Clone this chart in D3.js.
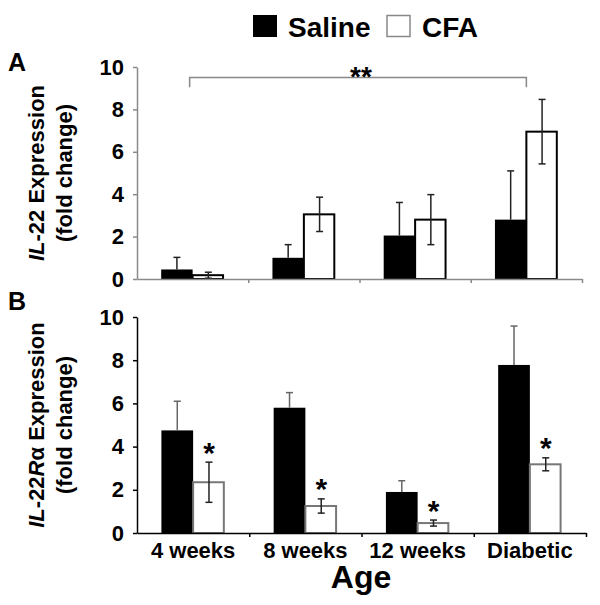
<!DOCTYPE html>
<html>
<head>
<meta charset="utf-8">
<script src="https://cdn.jsdelivr.net/npm/d3@7"></script>
<style>
  body { margin: 0; background: #fff; }
  text { font-family: Arial, "Liberation Sans", sans-serif; font-weight: bold; }
</style>
</head>
<body>
<div id="chart"></div>
<script>
// Age groups and fold-change values
var categories = ["4 weeks", "8 weeks", "12 weeks", "Diabetic"];
var yTicks = [0, 2, 4, 6, 8, 10];

// Panel A: IL-22
var il22Saline = [0.45, 1.0, 2.05, 2.8];
var il22SalineErr = [0.57, 0.62, 1.56, 2.3];
var il22Cfa = [0.18, 3.05, 2.8, 6.95];
var il22CfaErr = [0.14, 0.81, 1.18, 1.52];

// Panel B: IL-22Ralpha
var ilrSaline = [4.75, 5.8, 1.9, 7.78];
var ilrSalineErr = [1.35, 0.7, 0.52, 1.8];
var ilrCfa = [2.35, 1.25, 0.46, 3.18];
var ilrCfaErr = [0.93, 0.33, 0.14, 0.3];
var ilrStars = ["*", "*", "*", "*"];

var svg = d3.select("#chart").append("svg")
  .attr("width", 600)
  .attr("height", 605);

// legend on top
svg.append("rect").attr("x", 253).attr("y", 15).attr("width", 24).attr("height", 22).attr("fill", "#000");
svg.append("text").attr("x", 288).attr("y", 37).attr("font-size", 28).text("Saline");
svg.append("rect").attr("x", 387).attr("y", 15.5).attr("width", 23).attr("height", 21)
  .attr("fill", "#fff").attr("stroke", "#888").attr("stroke-width", 1.5);
svg.append("text").attr("x", 422).attr("y", 37).attr("font-size", 28).text("CFA");

function drawPanel(opt) {
  var g = svg.append("g");
  var y = d3.scaleLinear().domain([0, 10]).range([opt.y0, opt.y1]);
  var x = d3.scaleBand().domain(categories).range(opt.xr).paddingInner(0.435).paddingOuter(0.2175);
  var x1 = d3.scaleBand().domain([0, 1]).range([0, x.bandwidth()]);
  var xb = d3.scaleLinear().domain([0, 4]).range(opt.xr);

  var rows = categories.map(function(c, i) {
    return { cat: c, s: opt.saline[i], se: opt.salineErr[i], c: opt.cfa[i], ce: opt.cfaErr[i] };
  });

  // saline bars (black) with upward error only
  g.selectAll(".sal").data(rows).join("rect")
    .attr("x", d => x(d.cat) + x1(0))
    .attr("y", d => y(d.s))
    .attr("width", x1.bandwidth())
    .attr("height", d => y(0) - y(d.s))
    .attr("fill", "#000");
  g.selectAll(".salErr").data(rows).join("line")
    .attr("x1", d => x(d.cat) + x1(0) + x1.bandwidth() / 2)
    .attr("x2", d => x(d.cat) + x1(0) + x1.bandwidth() / 2)
    .attr("y1", d => y(d.s))
    .attr("y2", d => y(d.s + d.se))
    .attr("stroke", opt.salErrColor).attr("stroke-width", 1.5);
  g.selectAll(".salCap").data(rows).join("line")
    .attr("x1", d => x(d.cat) + x1(0) + x1.bandwidth() / 2 - 3.5)
    .attr("x2", d => x(d.cat) + x1(0) + x1.bandwidth() / 2 + 3.5)
    .attr("y1", d => y(d.s + d.se))
    .attr("y2", d => y(d.s + d.se))
    .attr("stroke", opt.salErrColor).attr("stroke-width", 1.5);

  // CFA bars (white, outlined)
  g.selectAll(".cfa").data(rows).join("rect")
    .attr("x", d => x(d.cat) + x1(1))
    .attr("y", d => y(d.c))
    .attr("width", x1.bandwidth() - 1)
    .attr("height", d => y(0) - y(d.c))
    .attr("fill", "#fff")
    .attr("stroke", opt.cfaStroke).attr("stroke-width", 2);
  g.selectAll(".cfaErr").data(rows).join("line")
    .attr("x1", d => x(d.cat) + x1(1) + x1.bandwidth() / 2)
    .attr("x2", d => x(d.cat) + x1(1) + x1.bandwidth() / 2)
    .attr("y1", d => y(Math.max(0, d.c - d.ce)))
    .attr("y2", d => y(d.c + d.ce))
    .attr("stroke", "#222").attr("stroke-width", 1.5);
  [1, -1].forEach(function(sign) {
    g.selectAll(".cfaCap" + sign).data(rows).join("line")
      .attr("x1", d => x(d.cat) + x1(1) + x1.bandwidth() / 2 - 3.5)
      .attr("x2", d => x(d.cat) + x1(1) + x1.bandwidth() / 2 + 3.5)
      .attr("y1", d => y(Math.max(0, d.c + sign * d.ce)))
      .attr("y2", d => y(Math.max(0, d.c + sign * d.ce)))
      .attr("stroke", "#222").attr("stroke-width", 1.5);
  });

  // significance stars over CFA bars
  if (opt.stars) {
    g.selectAll(".star").data(rows).join("text")
      .attr("x", d => x(d.cat) + x1(1) + x1.bandwidth() / 2)
      .attr("y", d => y(d.c + d.ce) + 0.5)
      .attr("text-anchor", "middle")
      .attr("font-size", 30)
      .text((d, i) => opt.stars[i]);
  }

  // axes
  var ya = g.append("g").attr("transform", `translate(${opt.xr[0]},0)`)
    .call(d3.axisLeft(y).tickValues(yTicks).tickSize(4).tickSizeOuter(0).tickPadding(9));
  ya.selectAll("text").attr("font-size", 22).attr("fill", "#000").style("font-family", "Arial, 'Liberation Sans'").style("font-weight", "bold");
  ya.selectAll("path, line").attr("stroke", opt.axisColor).attr("stroke-width", 1.5);

  var xa = g.append("g").attr("transform", `translate(0,${opt.y0})`)
    .call(d3.axisBottom(xb).tickValues([1, 2, 3, 4]).tickSize(4).tickSizeOuter(0).tickFormat(""));
  xa.selectAll("path, line").attr("stroke", opt.axisColor).attr("stroke-width", 1.5);

  // y-axis title, two lines
  var tg = g.append("g").attr("transform", `translate(0,${(opt.y0 + opt.y1) / 2}) rotate(-90)`);
  var t1 = tg.append("text").attr("x", 0).attr("y", 44).attr("text-anchor", "middle").attr("font-size", 22);
  opt.title.forEach(function(p) {
    t1.append("tspan").attr("font-style", p[1] ? "italic" : "normal").text(p[0]);
  });
  tg.append("text").attr("x", 0).attr("y", 72).attr("text-anchor", "middle").attr("font-size", 22).text("(fold change)");

  // panel letter
  g.append("text").attr("x", 8).attr("y", opt.letterY).attr("font-size", 25).text(opt.letter);

  return { x: x, y: y, x1: x1 };
}

var pa = drawPanel({
  y0: 279, y1: 67, xr: [137, 582],
  saline: il22Saline, salineErr: il22SalineErr, cfa: il22Cfa, cfaErr: il22CfaErr,
  axisColor: "#8a8a8a", cfaStroke: "#000", salErrColor: "#222",
  title: [["IL", true], ["-22 Expression", false]],
  letter: "A", letterY: 71
});

// bracket between 4 weeks and Diabetic in panel A
var bx0 = pa.x(categories[0]) + pa.x.bandwidth() / 2 - 3;
var bx1 = pa.x(categories[3]) + pa.x.bandwidth() / 2;
svg.append("path")
  .attr("d", `M${bx0},${pa.y(9.05)}V${pa.y(9.5)}H${bx1}V${pa.y(9.05)}`)
  .attr("fill", "none").attr("stroke", "#888").attr("stroke-width", 1.5);
svg.append("text").attr("x", (bx0 + bx1) / 2 + 3).attr("y", 86)
  .attr("text-anchor", "middle").attr("font-size", 28).text("**");

var pb = drawPanel({
  y0: 533, y1: 317, xr: [137, 586],
  saline: ilrSaline, salineErr: ilrSalineErr, cfa: ilrCfa, cfaErr: ilrCfaErr,
  axisColor: "#000", cfaStroke: "#777", salErrColor: "#666",
  title: [["IL", true], ["-22", false], ["R", true], ["\u03b1 Expression", false]],
  letter: "B", letterY: 310, stars: ilrStars
});

// category labels under panel B
svg.selectAll(".cat").data(categories).join("text")
  .attr("x", d => pb.x(d) + pb.x.bandwidth() / 2)
  .attr("y", 558)
  .attr("text-anchor", "middle")
  .attr("font-size", 22)
  .text(d => d);

svg.append("text").attr("x", 361).attr("y", 588).attr("text-anchor", "middle")
  .attr("font-size", 32).text("Age");
</script>
</body>
</html>
